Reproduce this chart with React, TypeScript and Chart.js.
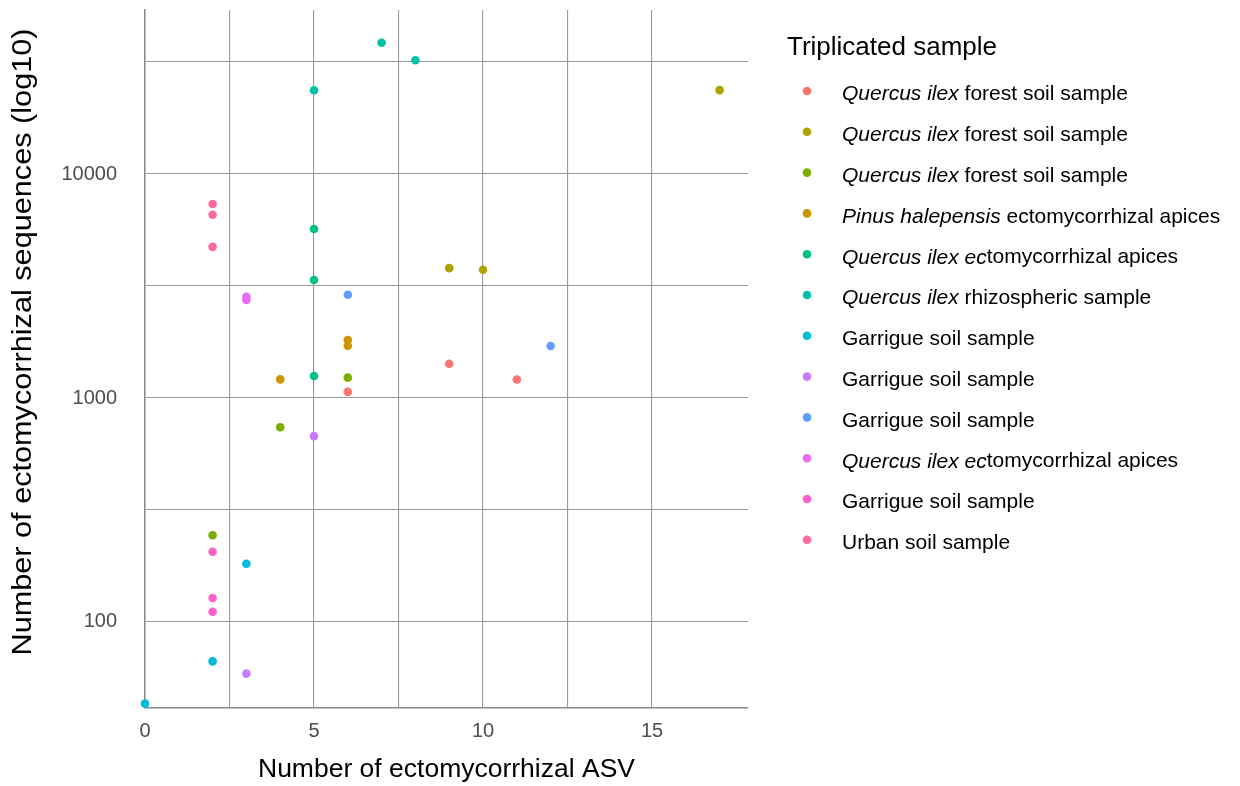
import React, { useEffect, useRef } from "react";
import { Chart, registerables } from "chart.js";

Chart.register(...registerables);

// ---- Data ----
const seriesLabels = [
  "Quercus ilex forest soil sample",
  "Quercus ilex forest soil sample",
  "Quercus ilex forest soil sample",
  "Pinus halepensis ectomycorrhizal apices",
  "Quercus ilex ectomycorrhizal apices",
  "Quercus ilex rhizospheric sample",
  "Garrigue soil sample",
  "Garrigue soil sample",
  "Garrigue soil sample",
  "Quercus ilex ectomycorrhizal apices",
  "Garrigue soil sample",
  "Urban soil sample",
];
// italic prefix of each legend label (as typeset in the reference)
const legendItalicPrefix = [
  "Quercus ilex",
  "Quercus ilex",
  "Quercus ilex",
  "Pinus halepensis",
  "Quercus ilex ec",
  "Quercus ilex",
  "",
  "",
  "",
  "Quercus ilex ec",
  "",
  "",
];
const seriesColors = [
  "#F8766D", "#ADA200", "#7CAE00", "#CD9600", "#00C082", "#00C1AA",
  "#00BCD8", "#C77CFF", "#619CFF", "#E76BF3", "#FF61C9", "#FF6A98",
];
const asvCounts = [
  [6, 9, 11],
  [9, 10, 17],
  [2, 4, 6],
  [4, 6, 6],
  [5, 5, 5],
  [5, 7, 8],
  [0, 2, 3],
  [3, 5],
  [6, 12],
  [3, 3],
  [2, 2, 2],
  [2, 2, 2],
];
const seqCounts = [
  [1065, 1423, 1209],
  [3800, 3740, 23700],
  [244, 740, 1233],
  [1211, 1710, 1815],
  [1253, 3365, 5680],
  [23650, 38540, 32200],
  [43.2, 66.7, 182],
  [58.8, 676],
  [2891, 1706],
  [2740, 2830],
  [111, 128, 206],
  [4730, 6580, 7345],
];
const xTickValues = [0, 2.5, 5, 7.5, 10, 12.5, 15];
const xLabelValues = [0, 5, 10, 15];
const yTickValues = [100, 316.2278, 1000, 3162.278, 10000, 31622.78];
const yLabelValues = [100, 1000, 10000];
const xRange = [0, 17.84];
const yRange = [41.3, 54000];

const xTitle = "Number of ectomycorrhizal ASV";
const yTitle = "Number of ectomycorrhizal sequences (log10)";
const legendTitle = "Triplicated sample";

const FONT = "'Liberation Sans', Arial, Helvetica, sans-serif";

const legendPlugin = {
  id: "customLegend",
  afterDraw(chart: any) {
    const ctx = chart.ctx;
    ctx.save();
    ctx.fillStyle = "#000";
    ctx.textBaseline = "middle";
    ctx.textAlign = "left";
    ctx.font = `26px ${FONT}`;
    ctx.fillText(legendTitle, 787, 48);
    seriesLabels.forEach((label, i) => {
      const y = 91 + i * 40.8;
      ctx.beginPath();
      ctx.arc(807, y, 4.3, 0, Math.PI * 2);
      ctx.fillStyle = seriesColors[i];
      ctx.fill();
      ctx.fillStyle = "#000";
      const it = legendItalicPrefix[i];
      let x = 842;
      const ty = y + 3.5;
      if (it) {
        ctx.font = `italic 21px ${FONT}`;
        ctx.fillText(it, x, ty);
        x += ctx.measureText(it).width;
      }
      ctx.font = `21px ${FONT}`;
      ctx.fillText(label.slice(it.length), x, ty);
    });

    // y axis title (drawn rotated, stretched along its length as in the reference)
    ctx.save();
    ctx.font = `27px ${FONT}`;
    ctx.fillStyle = "#000";
    ctx.textAlign = "center";
    ctx.textBaseline = "middle";
    const w = ctx.measureText(yTitle).width;
    const target = 627;
    ctx.translate(24, 342);
    ctx.rotate(-Math.PI / 2);
    ctx.scale(target / w, 1);
    ctx.fillText(yTitle, 0, 0);
    ctx.restore();

    ctx.restore();
  },
};

export default function App() {
  const canvasRef = useRef<HTMLCanvasElement | null>(null);

  useEffect(() => {
    if (!canvasRef.current) return;
    const datasets = seriesLabels.map((label, i) => ({
      label,
      data: asvCounts[i].map((x, j) => ({ x, y: seqCounts[i][j] })),
      backgroundColor: seriesColors[i],
      borderWidth: 0,
      pointRadius: 4.3,
      pointHoverRadius: 4.3,
      clip: false as any,
    }));
    const gridColor = "#9a9a9a";
    const chart = new Chart(canvasRef.current, {
      type: "scatter",
      data: { datasets },
      plugins: [legendPlugin],
      options: {
        animation: false,
        responsive: false,
        devicePixelRatio: 1,
        layout: { padding: { left: 0, right: 492, top: 10, bottom: 0 } },
        plugins: { legend: { display: false }, tooltip: { enabled: false } },
        scales: {
          x: {
            type: "linear",
            min: xRange[0],
            max: xRange[1],
            afterBuildTicks: (s: any) => {
              s.ticks = xTickValues.map((v) => ({ value: v }));
            },
            afterFit: (s: any) => {
              s.height = 78;
              s.paddingLeft = 0;
              s.paddingRight = 0;
            },
            ticks: {
              autoSkip: false,
              maxRotation: 0,
              padding: 11,
              color: "#4D4D4D",
              font: { family: FONT, size: 20 },
              callback: (v: any) => (xLabelValues.includes(Number(v)) ? String(v) : ""),
            },
            grid: { color: gridColor, lineWidth: 1.1, drawTicks: false },
            border: { display: true, color: "#8a8a8a", width: 1.5 },
            title: {
              display: true,
              text: xTitle,
              color: "#000",
              font: { family: FONT, size: 26.5 },
              padding: { top: 0, bottom: 0 },
            },
          },
          y: {
            type: "logarithmic",
            min: yRange[0],
            max: yRange[1],
            afterBuildTicks: (s: any) => {
              s.ticks = yTickValues.map((v) => ({ value: v }));
            },
            afterFit: (s: any) => {
              s.width = 145;
              s.paddingTop = 0;
              s.paddingBottom = 0;
            },
            ticks: {
              autoSkip: false,
              padding: 28,
              color: "#4D4D4D",
              font: { family: FONT, size: 20 },
              callback: (v: any) =>
                yLabelValues.some((l) => Math.abs(l - Number(v)) < 1e-6) ? String(Math.round(Number(v))) : "",
            },
            grid: { color: gridColor, lineWidth: 1.1, drawTicks: false },
            border: { display: true, color: "#8a8a8a", width: 1.5 },
            title: { display: false, text: yTitle },
          },
        },
      },
    });
    return () => chart.destroy();
  }, []);

  return (
    <div style={{ position: "absolute", left: 0, top: 0, width: 1240, height: 786, background: "#fff" }}>
      <canvas ref={canvasRef} width={1240} height={786} />
    </div>
  );
}
